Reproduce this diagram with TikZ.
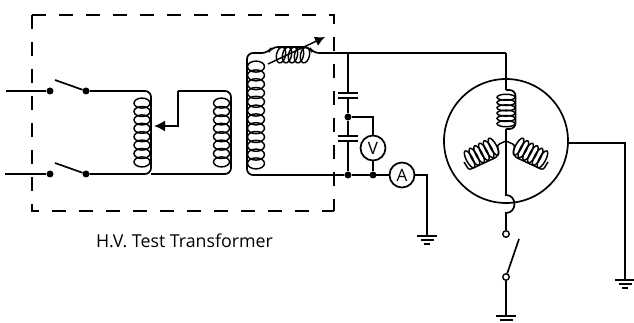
\documentclass[tikz,border=0pt]{standalone}
\usepackage{fontspec}
\setmainfont{Open Sans}
\usetikzlibrary{arrows.meta}

\tikzset{
  wire/.style={line width=1.7pt,black},
  thin wire/.style={line width=1.45pt,black},
  dot/.style={circle,fill=black,inner sep=0pt,minimum size=7pt},
  opendot/.style={circle,draw=black,fill=white,line width=1.4pt,inner sep=0pt,minimum size=6.5pt},
  meter/.style={circle,draw=black,fill=white,line width=1.7pt,inner sep=0pt,minimum size=25pt,font=\fontsize{17}{17}\selectfont},
  cadre/.style={line width=1.7pt,dash pattern=on 14pt off 13pt},
}

% ellipses of a coil: x, y, rotation, number of loops, spacing, half width, half height
\newcommand{\coil}[7]{
  \begin{scope}[shift={(#1,#2)},rotate=#3]
    \foreach \k in {1,...,#4}
      \draw[thin wire] (0pt,{(\k-(#4+1)/2)*#5*1pt}) ellipse [x radius=#6pt,y radius=#7pt];
  \end{scope}
}
% earth symbol below a named point
\newcommand{\earth}[1]{
  \draw[wire] ([xshift=-10pt]#1.center) -- ([xshift=10pt]#1.center);
  \draw[wire] ([xshift=-6.5pt,yshift=-4pt]#1.center) -- ([xshift=6.5pt,yshift=-4pt]#1.center);
  \draw[wire] ([xshift=-3pt,yshift=-8pt]#1.center) -- ([xshift=3pt,yshift=-8pt]#1.center);
}

\begin{document}
\begin{tikzpicture}[x=1pt,y=-1pt]
\useasboundingbox (0,0) rectangle (634,323);

%transformer frame
\draw[cadre] (32,15) -- (334,15) -- (334,211);
\draw[cadre] (32,15) -- (32,211) -- (334,211);
\node[anchor=base] (title) at (184.5,247) {\fontsize{17.8}{17.8}\selectfont H.V. Test Transformer};

%input switches
\coordinate (intop) at (6,91);
\coordinate (inbot) at (5,174);
\node[dot] (sw1a) at (50,91) {};
\node[dot] (sw1b) at (86,91) {};
\node[dot] (sw2a) at (50,174) {};
\node[dot] (sw2b) at (86,174) {};
\coordinate (blade1) at (55,80);
\coordinate (blade2) at (55,163);
\draw[wire] (intop) -- (sw1a);
\draw[wire] (inbot) -- (sw2a);
\draw[wire] (blade1) -- (sw1b);
\draw[wire] (blade2) -- (sw2b);

%regulator
\coordinate (regtop) at (151,91);
\coordinate (regbot) at (151,174);
\coordinate (outtop) at (231,91);
\coordinate (outbot) at (231,174);
\coordinate (tapa) at (178,91);
\coordinate (tapb) at (178,126);
\coordinate (tapc) at (154,126);
\draw[wire,rounded corners=6pt] (sw1b) -- (regtop) -- (regbot) -- (sw2b);
\draw[wire,rounded corners=6pt] (tapa) -- (outtop) -- (outbot) -- (regbot);
\draw[wire,-{Latex[length=11pt,width=11pt]}] (tapa) -- (tapb) -- (tapc);
\coil{142}{132.5}{0}{8}{8.4}{8}{5}
\coil{221.5}{132.5}{0}{8}{8.4}{8}{5}

%high voltage winding
\coordinate (hvtop) at (247,53);
\coordinate (hvbot) at (247,175);
\coordinate (ctop) at (348,53);
\coordinate (bush) at (506,53);
\node[dot] (cbot) at (348,175) {};
\node[dot] (vbot) at (373,175) {};
\node[meter] (ammeter) at (402,175) {A};
\draw[wire,rounded corners=6pt] (ctop) -- (313,53) -- (309,47) -- (272,47) -- (268,53) -- (hvtop) -- (hvbot) -- (cbot);
\coil{256}{115}{0}{12}{8.8}{8.5}{5.5}
\foreach \x in {281,287,293,299,305}
  \draw[thin wire] (\x,55) ellipse [x radius=4.5pt,y radius=8pt,rotate=-12];
\coordinate (vara) at (268,64);
\coordinate (varb) at (325,37);
\draw[thin wire,-{Latex[length=10pt,width=10pt]}] (vara) -- (varb);

%divider
\node[dot] (cmid) at (348,117) {};
\node[meter] (voltmeter) at (373,148) {V};
\coordinate (c1a) at (348,93);
\coordinate (c1b) at (348,98);
\coordinate (c2a) at (348,136);
\coordinate (c2b) at (348,141);
\coordinate (vtop) at (373,117);
\draw[wire] (ctop) -- (bush);
\draw[wire] (ctop) -- (c1a);
\draw[wire] (c1b) -- (cmid) -- (c2a);
\draw[wire] (c2b) -- (cbot);
\draw[wire] ([xshift=-10pt]c1a) -- ([xshift=10pt]c1a);
\draw[wire] ([xshift=-10pt]c1b) -- ([xshift=10pt]c1b);
\draw[wire] ([xshift=-10pt]c2a) -- ([xshift=10pt]c2a);
\draw[wire] ([xshift=-10pt]c2b) -- ([xshift=10pt]c2b);
\draw[wire] (cmid) -- (vtop) -- (voltmeter);
\draw[wire] (voltmeter) -- (vbot);
\draw[wire] (cbot) -- (ammeter);

%earth of the ammeter
\coordinate (acorner) at (427,175);
\coordinate (aearth) at (427,236);
\draw[wire] (ammeter) -- (acorner) -- (aearth);
\earth{aearth}

%machine
\node[circle,draw=black,line width=1.7pt,inner sep=0pt,minimum size=124pt] (stator) at (506,141) {};
\coordinate (star) at (506,141);
\coordinate (frame) at (568,143);
\coordinate (fcorner) at (625,143);
\coordinate (fearth) at (625,280);
\draw[wire] (bush) -- (506,90);
\draw[wire,rounded corners=6pt] (506,90) -- (515.5,90) -- (515.5,129) -- (506,129);
\draw[wire] (506,129) -- (star);
\coil{506}{110.5}{0}{6}{5.3}{9}{3}
\draw[wire] (frame) -- (fcorner) -- (fearth);
\earth{fearth}

%star windings
\draw[thin wire,rounded corners=2.5pt] (star) -- (497,145) -- (499,152) -- (497,157) -- (469,170) -- (464,162);
\draw[thin wire,rounded corners=2.5pt] (star) -- (515,145) -- (513,152) -- (515,157) -- (543,170) -- (548,162);
\coil{481.5}{153}{-62}{6}{5.4}{9.5}{3.2}
\coil{530.5}{153}{62}{6}{5.4}{9.5}{3.2}

%neutral and its switch
\node[opendot] (nsw1) at (506,234) {};
\node[opendot] (nsw2) at (506,277) {};
\coordinate (nblade) at (519,239);
\coordinate (nearth) at (506,316);
\coordinate (bumpa) at (506,195);
\coordinate (bumpb) at (506,213);
\draw[wire] (star) -- (bumpa) to[out=0,in=0,looseness=1.6] (bumpb) -- (nsw1);
\draw[wire] (nsw2) -- (nblade);
\draw[wire] (nsw2) -- (nearth);
\earth{nearth}

\end{tikzpicture}
\end{document}
